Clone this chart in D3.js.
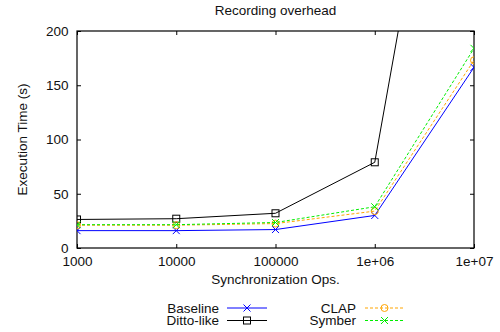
<!DOCTYPE html>
<html>
<head>
<meta charset="utf-8">
<script src="https://cdn.jsdelivr.net/npm/d3@7"></script>
<style>
  body { margin: 0; background: #fff; }
  svg { display: block; font-family: 'Liberation Sans', Arial, Helvetica, sans-serif; }
</style>
</head>
<body>
<svg id="chart" width="500" height="332"></svg>
<script>
// data
const xValues = [1000, 10000, 100000, 1000000, 10000000]
const xTickLabels = ['1000', '10000', '100000', '1e+06', '1e+07']
const yTicks = [0, 50, 100, 150, 200]

const baseline = [16, 16, 17, 30, 166.5]
const dittoLike = [26.3, 27, 32, 79, 590]
const clap = [21, 21, 22.5, 34, 173]
const symber = [21.5, 21.5, 23.5, 38, 184]

const series = [
  { name: 'Baseline', values: baseline, color: '#0000ff', dash: null, marker: 'x' },
  { name: 'Ditto-like', values: dittoLike, color: '#000000', dash: null, marker: 'square' },
  { name: 'CLAP', values: clap, color: '#ffa500', dash: '3,2', marker: 'circle' },
  { name: 'Symber', values: symber, color: '#00ee00', dash: '3,2', marker: 'x' }
]

const fontSize = 13.5
const textColor = '#111'

const margin = { left: 77, right: 26, top: 31, bottom: 84 }
const width = 500
const height = 332
const x0 = margin.left, x1 = width - margin.right
const y0 = height - margin.bottom, y1 = margin.top

const svg = d3.select('#chart')

const x = d3.scaleLog().domain([1000, 10000000]).range([x0, x1])
const y = d3.scaleLinear().domain([0, 200]).range([y0, y1])

svg.append('defs').append('clipPath').attr('id', 'plot-clip')
  .append('rect').attr('x', x0).attr('y', y1).attr('width', x1 - x0).attr('height', y0 - y1)

// title
svg.append('text')
  .attr('x', (x0 + x1) / 2).attr('y', 15)
  .attr('text-anchor', 'middle').attr('font-size', fontSize).attr('fill', textColor)
  .text('Recording overhead')

// axes (gnuplot-style inward ticks on all sides)
const tickLen = 4
const axisG = svg.append('g')

const yAxisL = d3.axisLeft(y).tickValues(yTicks).tickSize(-tickLen).tickPadding(8.5)
const yAxisR = d3.axisRight(y).tickValues(yTicks).tickSize(-tickLen).tickFormat('')
const xAxisB = d3.axisBottom(x).tickValues(xValues).tickSize(-tickLen).tickPadding(8)
  .tickFormat((d, i) => xTickLabels[i])
const xAxisT = d3.axisTop(x).tickValues(xValues).tickSize(-tickLen).tickFormat('')

axisG.append('g').attr('transform', `translate(${x0},0)`).call(yAxisL)
axisG.append('g').attr('transform', `translate(${x1},0)`).call(yAxisR)
axisG.append('g').attr('transform', `translate(0,${y0})`).call(xAxisB)
axisG.append('g').attr('transform', `translate(0,${y1})`).call(xAxisT)

axisG.selectAll('.domain').remove()
axisG.selectAll('.tick line').attr('stroke', '#000').attr('stroke-width', 1)
axisG.selectAll('.tick text')
  .attr('font-size', fontSize).attr('fill', textColor)
  .attr('font-family', "'Liberation Sans', Arial, sans-serif")

svg.append('rect')
  .attr('x', x0).attr('y', y1).attr('width', x1 - x0).attr('height', y0 - y1)
  .attr('fill', 'none').attr('stroke', '#000').attr('stroke-width', 1.2)

// axis labels
svg.append('text')
  .attr('transform', `translate(26.5,${(y0 + y1) / 2}) rotate(-90)`)
  .attr('text-anchor', 'middle').attr('font-size', fontSize).attr('fill', textColor)
  .text('Execution Time (s)')

svg.append('text')
  .attr('x', (x0 + x1) / 2).attr('y', 284)
  .attr('text-anchor', 'middle').attr('font-size', fontSize).attr('fill', textColor)
  .text('Synchronization Ops.')

// markers
function drawMarker(g, type, cx, cy, color) {
  const s = 3.5
  if (type === 'x') {
    g.append('path')
      .attr('d', `M${cx - s},${cy - s}L${cx + s},${cy + s}M${cx - s},${cy + s}L${cx + s},${cy - s}`)
      .attr('stroke', color).attr('stroke-width', 1).attr('fill', 'none')
  } else if (type === 'square') {
    g.append('rect')
      .attr('x', cx - s).attr('y', cy - s).attr('width', 2 * s).attr('height', 2 * s)
      .attr('stroke', color).attr('stroke-width', 1).attr('fill', 'none')
  } else if (type === 'circle') {
    g.append('circle')
      .attr('cx', cx).attr('cy', cy).attr('r', s)
      .attr('stroke', color).attr('stroke-width', 1).attr('fill', 'none')
  }
}

const line = d3.line().x(d => x(d[0])).y(d => y(d[1]))
const plot = svg.append('g').attr('clip-path', 'url(#plot-clip)')

series.forEach(s => {
  const pts = xValues.map((v, i) => [v, s.values[i]])
  plot.append('path')
    .datum(pts)
    .attr('d', line)
    .attr('fill', 'none')
    .attr('stroke', s.color)
    .attr('stroke-width', 1)
    .attr('stroke-dasharray', s.dash)
  const mg = plot.append('g')
  pts.forEach(p => drawMarker(mg, s.marker, x(p[0]), y(p[1]), s.color))
})

// legend
const legendPos = [
  { textX: 219, lineX0: 227, lineX1: 267, y: 308 },
  { textX: 219, lineX0: 227, lineX1: 267, y: 320.5 },
  { textX: 356, lineX0: 365, lineX1: 404, y: 308 },
  { textX: 356, lineX0: 365, lineX1: 404, y: 320.5 }
]
const legend = svg.append('g')
series.forEach((s, i) => {
  const p = legendPos[i]
  legend.append('text')
    .attr('x', p.textX).attr('y', p.y + 4.5)
    .attr('text-anchor', 'end').attr('font-size', fontSize).attr('fill', textColor)
    .text(s.name)
  legend.append('line')
    .attr('x1', p.lineX0).attr('x2', p.lineX1).attr('y1', p.y).attr('y2', p.y)
    .attr('stroke', s.color).attr('stroke-width', 1)
    .attr('stroke-dasharray', s.dash)
  drawMarker(legend, s.marker, (p.lineX0 + p.lineX1) / 2, p.y, s.color)
})
</script>
</body>
</html>
